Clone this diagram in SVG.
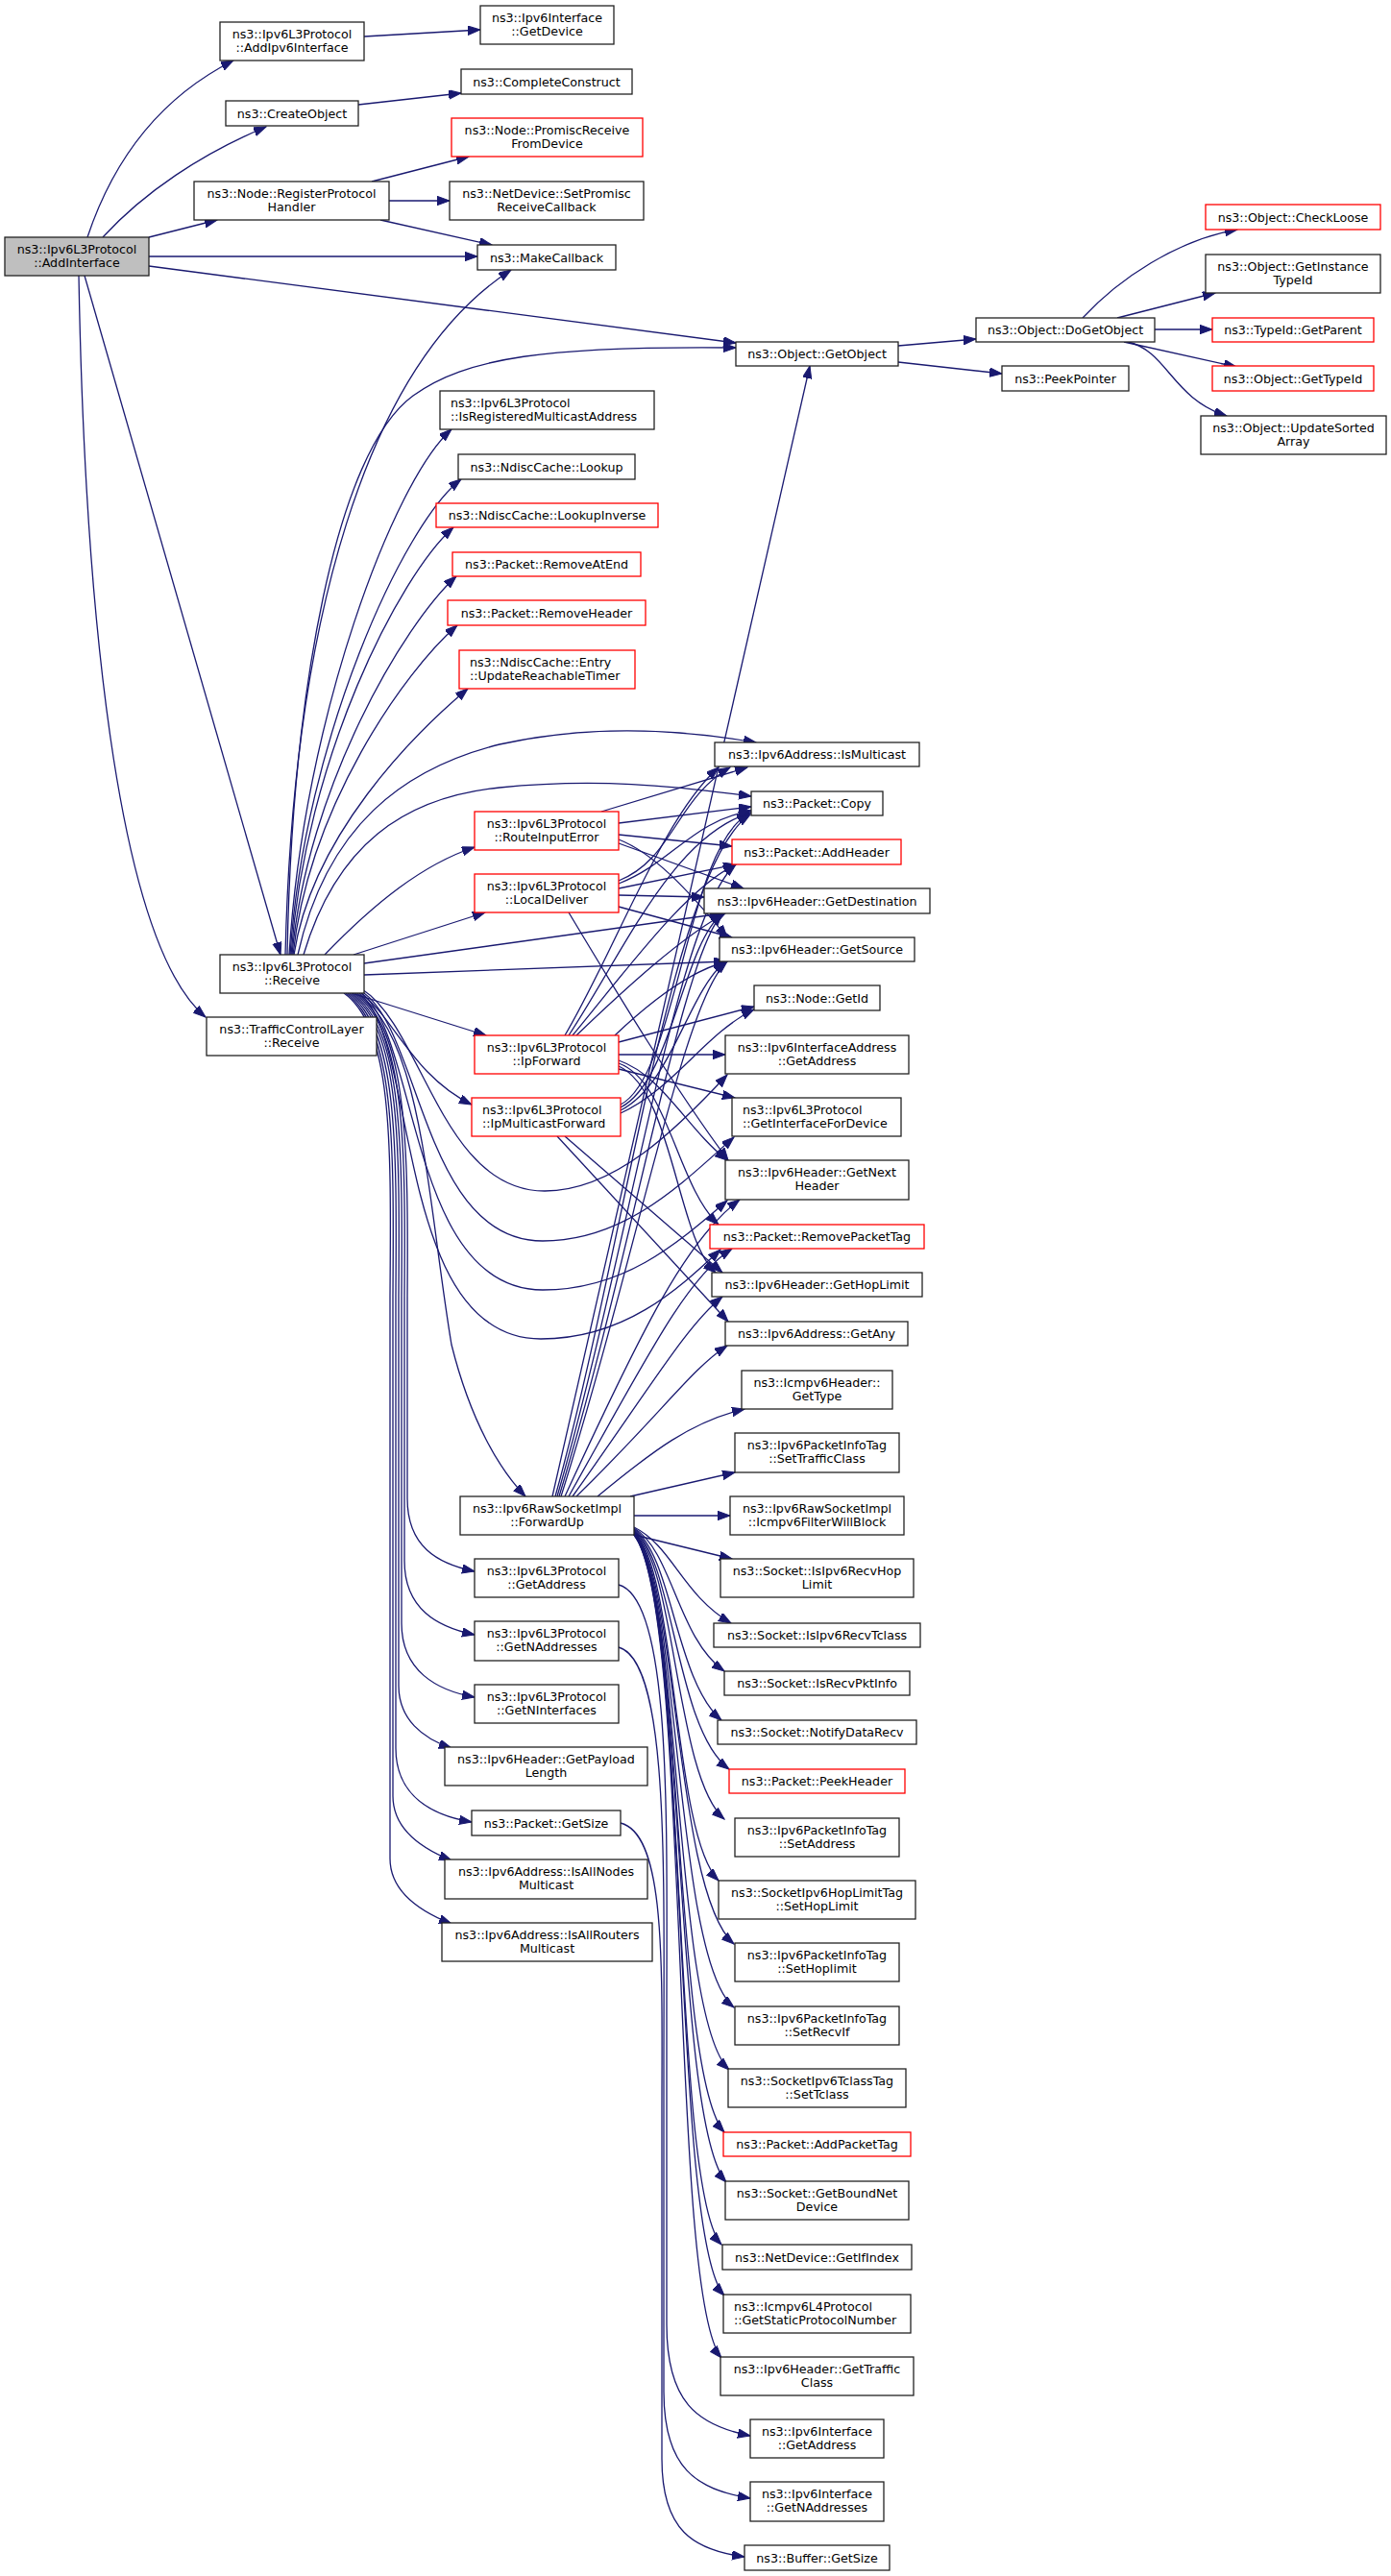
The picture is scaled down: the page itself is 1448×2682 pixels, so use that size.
<svg xmlns="http://www.w3.org/2000/svg" width="1448" height="2682" viewBox="0 0 1448 2682">
<defs>
<marker id="a" markerWidth="14" markerHeight="10" refX="13" refY="4.7" orient="auto" markerUnits="userSpaceOnUse"><path d="M0,0 L13,4.7 L0,9.4 z" fill="#191970" stroke="#191970" stroke-width="1"/></marker>
<style>
.n rect{fill:#fff;stroke:#222;stroke-width:1.3}
.r rect{stroke:#f00}
.root rect{fill:#bfbfbf}
text{font-family:"DejaVu Sans","Liberation Sans",sans-serif;font-size:12.67px;fill:#000}
.c{text-anchor:middle}
#edges path{fill:none;stroke:#191970;stroke-width:1.3;marker-end:url(#a)}
</style>
</defs>
<rect width="1448" height="2682" fill="#fff"/>
<g id="edges">
<path d="M91,247 C115,175 160,105 243,63"/>
<path d="M107,247 C150,200 210,160 277,132"/>
<path d="M155,247 L226,229"/>
<path d="M155,267 L497,267"/>
<path d="M155,277 L766,357"/>
<path d="M88,287 L292,994"/>
<path d="M82,287 C88,620 120,980 214,1059"/>
<path d="M379,38 L500,31"/>
<path d="M373,109 L480,97"/>
<path d="M387,189 L488,163"/>
<path d="M405,209 L468,209"/>
<path d="M396,229 L512,255"/>
<path d="M935,360 L1016,353"/>
<path d="M935,377 L1043,389"/>
<path d="M1127,331 C1165,290 1225,250 1288,239"/>
<path d="M1163,331 L1265,305"/>
<path d="M1202,343 L1262,343"/>
<path d="M1170,356 L1287,382"/>
<path d="M1174,356 C1215,365 1220,415 1277,433"/>
<path d="M297,994 C305,650 380,380 532,281"/>
<path d="M299,994 C304,720 350,470 430,412 C485,372 570,360 766,362"/>
<path d="M301,994 C316,748 410,500 470,447"/>
<path d="M302,994 C317,770 420,545 480,499"/>
<path d="M303,994 C318,790 415,600 472,549"/>
<path d="M304,994 C320,820 420,650 475,600"/>
<path d="M305,994 C322,840 420,700 476,651"/>
<path d="M306,994 C325,870 430,765 487,717"/>
<path d="M310,994 C340,860 420,800 520,775 C610,755 700,758 787,773"/>
<path d="M316,994 C350,880 420,830 520,820 C620,810 700,818 782,829"/>
<path d="M338,994 C390,940 440,900 494,882"/>
<path d="M368,994 L505,950"/>
<path d="M379,1003 L752,951"/>
<path d="M379,1015 L756,1001"/>
<path d="M366,1034 L506,1078"/>
<path d="M376,1034 C410,1060 430,1120 491,1150"/>
<path d="M377,1030 C440,1070 460,1240 567,1240 C640,1240 705,1175 757,1119"/>
<path d="M376,1032 C438,1070 440,1292 565,1292 C652,1292 712,1230 764,1184"/>
<path d="M375,1033 C436,1075 425,1343 565,1343 C652,1343 708,1292 757,1250"/>
<path d="M374,1034 C436,1080 410,1394 563,1394 C652,1394 708,1340 750,1301"/>
<path d="M372,1034 C440,1080 445,1250 470,1400 C490,1480 520,1530 547,1558"/>
<path d="M370,1034 C425,1070 425,1200 424,1350 L424,1560 C424,1610 455,1628 494,1636"/>
<path d="M368,1034 C423,1070 422,1200 421,1350 L421,1625 C421,1675 455,1694 494,1702"/>
<path d="M366,1034 C420,1070 419,1200 418,1350 L418,1690 C418,1740 455,1760 494,1767"/>
<path d="M364,1034 C418,1070 416,1200 415,1350 L415,1755 C415,1790 440,1810 470,1820"/>
<path d="M362,1034 C415,1070 413,1200 412,1350 L412,1820 C412,1870 450,1890 491,1897"/>
<path d="M360,1034 C412,1070 410,1200 409,1350 L409,1870 C409,1905 440,1925 470,1937"/>
<path d="M358,1034 C410,1070 407,1200 406,1350 L406,1935 C406,1970 437,1990 470,2003"/>
<path d="M588,1078 C640,990 690,850 748,799"/>
<path d="M592,1078 C650,990 700,870 782,846"/>
<path d="M596,1078 C660,1000 715,925 766,900"/>
<path d="M600,1078 C650,1030 710,975 755,951"/>
<path d="M640,1078 C680,1040 720,1010 757,1001"/>
<path d="M644,1085 L785,1048"/>
<path d="M644,1098 L755,1098"/>
<path d="M644,1113 L765,1143"/>
<path d="M644,1104 C690,1120 715,1175 757,1208"/>
<path d="M644,1107 C695,1125 705,1235 748,1275"/>
<path d="M644,1110 C700,1135 705,1290 745,1325"/>
<path d="M646,1150 C705,1120 715,880 780,847"/>
<path d="M646,1153 C700,1125 710,985 752,951"/>
<path d="M646,1156 C700,1128 715,1035 755,1001"/>
<path d="M646,1159 C700,1135 735,1075 785,1051"/>
<path d="M588,1183 L752,1325"/>
<path d="M580,1183 L758,1376"/>
<path d="M626,845 L778,799"/>
<path d="M644,857 L782,840"/>
<path d="M644,869 L762,881"/>
<path d="M644,878 L774,925"/>
<path d="M644,874 C680,888 715,925 757,976"/>
<path d="M644,917 C700,895 705,830 760,799"/>
<path d="M644,920 C700,898 720,855 782,844"/>
<path d="M644,925 L766,900"/>
<path d="M644,932 L733,934"/>
<path d="M644,944 L762,976"/>
<path d="M592,950 C640,1030 700,1130 758,1208"/>
<path d="M575,1558 L843,381"/>
<path d="M578,1558 C650,1300 700,900 781,848"/>
<path d="M580,1558 C655,1300 705,950 766,900"/>
<path d="M582,1558 C660,1300 708,1000 752,951"/>
<path d="M584,1558 C665,1300 712,1040 757,1001"/>
<path d="M588,1558 C670,1380 715,1290 770,1249"/>
<path d="M592,1558 C675,1410 715,1330 762,1300"/>
<path d="M596,1558 C680,1440 715,1380 752,1350"/>
<path d="M600,1558 C690,1470 720,1425 757,1401"/>
<path d="M622,1558 C680,1510 720,1480 775,1467"/>
<path d="M656,1558 L765,1533"/>
<path d="M660,1578 L760,1578"/>
<path d="M660,1598 L762,1623"/>
<path d="M660,1590 C700,1610 710,1660 761,1690"/>
<path d="M660,1591 C700,1615 705,1705 754,1740"/>
<path d="M660,1592 C700,1620 703,1750 751,1791"/>
<path d="M660,1593 C702,1625 703,1800 759,1842"/>
<path d="M660,1594 C704,1630 703,1850 754,1894"/>
<path d="M660,1595 C705,1635 700,1910 748,1958"/>
<path d="M660,1596 C706,1640 702,1970 764,2024"/>
<path d="M660,1596 C708,1645 702,2040 764,2090"/>
<path d="M660,1597 C710,1650 700,2100 759,2155"/>
<path d="M660,1597 C712,1655 700,2160 754,2220"/>
<path d="M660,1598 C714,1660 700,2210 756,2272"/>
<path d="M660,1598 C716,1665 698,2280 751,2337"/>
<path d="M660,1598 C718,1670 698,2330 754,2390"/>
<path d="M660,1598 C720,1675 696,2390 751,2455"/>
<path d="M644,1650 C700,1665 694,1900 694,2100 L694,2420 C694,2500 725,2525 781,2536"/>
<path d="M644,1715 C697,1730 691,1950 691,2150 L691,2490 C691,2570 725,2592 781,2601"/>
<path d="M646,1898 C694,1910 689,2050 689,2200 L689,2560 C689,2635 722,2655 775,2662"/>
</g>
<g id="n0" class="n root"><rect x="5" y="247" width="150" height="40"/><text class="c"><tspan x="80" y="263.5">ns3::Ipv6L3Protocol</tspan><tspan x="80" y="277.5">::AddInterface</tspan></text></g>
<g id="n1" class="n"><rect x="229" y="23" width="150" height="40"/><text class="c"><tspan x="304" y="39.5">ns3::Ipv6L3Protocol</tspan><tspan x="304" y="53.5">::AddIpv6Interface</tspan></text></g>
<g id="n2" class="n"><rect x="500" y="6" width="139" height="40"/><text class="c"><tspan x="569.5" y="22.5">ns3::Ipv6Interface</tspan><tspan x="569.5" y="36.5">::GetDevice</tspan></text></g>
<g id="n3" class="n"><rect x="235" y="105" width="138" height="26"/><text class="c" x="304" y="122.5">ns3::CreateObject</text></g>
<g id="n4" class="n"><rect x="480" y="72" width="178" height="26"/><text class="c" x="569" y="89.5">ns3::CompleteConstruct</text></g>
<g id="n5" class="n r"><rect x="470" y="123" width="199" height="40"/><text class="c"><tspan x="569.5" y="139.5">ns3::Node::PromiscReceive</tspan><tspan x="569.5" y="153.5">FromDevice</tspan></text></g>
<g id="n6" class="n"><rect x="202" y="189" width="203" height="40"/><text class="c"><tspan x="303.5" y="205.5">ns3::Node::RegisterProtocol</tspan><tspan x="303.5" y="219.5">Handler</tspan></text></g>
<g id="n7" class="n"><rect x="468" y="189" width="202" height="40"/><text class="c"><tspan x="569" y="205.5">ns3::NetDevice::SetPromisc</tspan><tspan x="569" y="219.5">ReceiveCallback</tspan></text></g>
<g id="n8" class="n"><rect x="497" y="255" width="144" height="26"/><text class="c" x="569" y="272.5">ns3::MakeCallback</text></g>
<g id="n9" class="n"><rect x="766" y="356" width="169" height="25"/><text class="c" x="850.5" y="373">ns3::Object::GetObject</text></g>
<g id="n10" class="n"><rect x="1043" y="381" width="132" height="26"/><text class="c" x="1109" y="398.5">ns3::PeekPointer</text></g>
<g id="n11" class="n"><rect x="1016" y="331" width="186" height="25"/><text class="c" x="1109" y="348">ns3::Object::DoGetObject</text></g>
<g id="n12" class="n r"><rect x="1255" y="213" width="182" height="26"/><text class="c" x="1346" y="230.5">ns3::Object::CheckLoose</text></g>
<g id="n13" class="n"><rect x="1255" y="265" width="182" height="40"/><text class="c"><tspan x="1346" y="281.5">ns3::Object::GetInstance</tspan><tspan x="1346" y="295.5">TypeId</tspan></text></g>
<g id="n14" class="n r"><rect x="1262" y="331" width="168" height="25"/><text class="c" x="1346" y="348">ns3::TypeId::GetParent</text></g>
<g id="n15" class="n r"><rect x="1262" y="381" width="168" height="26"/><text class="c" x="1346" y="398.5">ns3::Object::GetTypeId</text></g>
<g id="n16" class="n"><rect x="1250" y="433" width="193" height="40"/><text class="c"><tspan x="1346.5" y="449.5">ns3::Object::UpdateSorted</tspan><tspan x="1346.5" y="463.5">Array</tspan></text></g>
<g id="n17" class="n"><rect x="458" y="407" width="223" height="40"/><text><tspan x="469" y="423.5">ns3::Ipv6L3Protocol</tspan><tspan x="469" y="437.5">::IsRegisteredMulticastAddress</tspan></text></g>
<g id="n18" class="n"><rect x="477" y="473" width="184" height="26"/><text class="c" x="569" y="490.5">ns3::NdiscCache::Lookup</text></g>
<g id="n19" class="n r"><rect x="454" y="524" width="231" height="25"/><text class="c" x="569.5" y="541">ns3::NdiscCache::LookupInverse</text></g>
<g id="n20" class="n r"><rect x="471" y="575" width="196" height="25"/><text class="c" x="569" y="592">ns3::Packet::RemoveAtEnd</text></g>
<g id="n21" class="n r"><rect x="466" y="625" width="206" height="26"/><text class="c" x="569" y="642.5">ns3::Packet::RemoveHeader</text></g>
<g id="n22" class="n r"><rect x="478" y="677" width="183" height="40"/><text><tspan x="489" y="693.5">ns3::NdiscCache::Entry</tspan><tspan x="489" y="707.5">::UpdateReachableTimer</tspan></text></g>
<g id="n23" class="n"><rect x="744" y="773" width="213" height="25"/><text class="c" x="850.5" y="790">ns3::Ipv6Address::IsMulticast</text></g>
<g id="n24" class="n"><rect x="782" y="824" width="137" height="25"/><text class="c" x="850.5" y="841">ns3::Packet::Copy</text></g>
<g id="n25" class="n r"><rect x="762" y="874" width="176" height="26"/><text class="c" x="850" y="891.5">ns3::Packet::AddHeader</text></g>
<g id="n26" class="n"><rect x="733" y="925" width="235" height="26"/><text class="c" x="850.5" y="942.5">ns3::Ipv6Header::GetDestination</text></g>
<g id="n27" class="n"><rect x="749" y="976" width="203" height="25"/><text class="c" x="850.5" y="993">ns3::Ipv6Header::GetSource</text></g>
<g id="n28" class="n"><rect x="785" y="1026" width="131" height="26"/><text class="c" x="850.5" y="1043.5">ns3::Node::GetId</text></g>
<g id="n29" class="n"><rect x="755" y="1078" width="191" height="40"/><text class="c"><tspan x="850.5" y="1094.5">ns3::Ipv6InterfaceAddress</tspan><tspan x="850.5" y="1108.5">::GetAddress</tspan></text></g>
<g id="n30" class="n"><rect x="762" y="1143" width="176" height="40"/><text><tspan x="773" y="1159.5">ns3::Ipv6L3Protocol</tspan><tspan x="773" y="1173.5">::GetInterfaceForDevice</tspan></text></g>
<g id="n31" class="n"><rect x="755" y="1208" width="191" height="41"/><text class="c"><tspan x="850.5" y="1225">ns3::Ipv6Header::GetNext</tspan><tspan x="850.5" y="1239">Header</tspan></text></g>
<g id="n32" class="n r"><rect x="739" y="1275" width="223" height="25"/><text class="c" x="850.5" y="1292">ns3::Packet::RemovePacketTag</text></g>
<g id="n33" class="n"><rect x="741" y="1325" width="219" height="25"/><text class="c" x="850.5" y="1342">ns3::Ipv6Header::GetHopLimit</text></g>
<g id="n34" class="n"><rect x="755" y="1376" width="190" height="25"/><text class="c" x="850" y="1393">ns3::Ipv6Address::GetAny</text></g>
<g id="n35" class="n"><rect x="772" y="1427" width="157" height="40"/><text class="c"><tspan x="850.5" y="1443.5">ns3::Icmpv6Header::</tspan><tspan x="850.5" y="1457.5">GetType</tspan></text></g>
<g id="n36" class="n"><rect x="765" y="1492" width="171" height="41"/><text class="c"><tspan x="850.5" y="1509">ns3::Ipv6PacketInfoTag</tspan><tspan x="850.5" y="1523">::SetTrafficClass</tspan></text></g>
<g id="n37" class="n"><rect x="760" y="1558" width="181" height="40"/><text class="c"><tspan x="850.5" y="1574.5">ns3::Ipv6RawSocketImpl</tspan><tspan x="850.5" y="1588.5">::Icmpv6FilterWillBlock</tspan></text></g>
<g id="n38" class="n"><rect x="750" y="1623" width="201" height="40"/><text class="c"><tspan x="850.5" y="1639.5">ns3::Socket::IsIpv6RecvHop</tspan><tspan x="850.5" y="1653.5">Limit</tspan></text></g>
<g id="n39" class="n"><rect x="743" y="1690" width="215" height="25"/><text class="c" x="850.5" y="1707">ns3::Socket::IsIpv6RecvTclass</text></g>
<g id="n40" class="n"><rect x="754" y="1740" width="193" height="25"/><text class="c" x="850.5" y="1757">ns3::Socket::IsRecvPktInfo</text></g>
<g id="n41" class="n"><rect x="747" y="1791" width="207" height="25"/><text class="c" x="850.5" y="1808">ns3::Socket::NotifyDataRecv</text></g>
<g id="n42" class="n r"><rect x="759" y="1842" width="183" height="25"/><text class="c" x="850.5" y="1859">ns3::Packet::PeekHeader</text></g>
<g id="n43" class="n"><rect x="765" y="1893" width="171" height="40"/><text class="c"><tspan x="850.5" y="1909.5">ns3::Ipv6PacketInfoTag</tspan><tspan x="850.5" y="1923.5">::SetAddress</tspan></text></g>
<g id="n44" class="n"><rect x="748" y="1958" width="205" height="40"/><text class="c"><tspan x="850.5" y="1974.5">ns3::SocketIpv6HopLimitTag</tspan><tspan x="850.5" y="1988.5">::SetHopLimit</tspan></text></g>
<g id="n45" class="n"><rect x="765" y="2023" width="171" height="40"/><text class="c"><tspan x="850.5" y="2039.5">ns3::Ipv6PacketInfoTag</tspan><tspan x="850.5" y="2053.5">::SetHoplimit</tspan></text></g>
<g id="n46" class="n"><rect x="765" y="2089" width="171" height="40"/><text class="c"><tspan x="850.5" y="2105.5">ns3::Ipv6PacketInfoTag</tspan><tspan x="850.5" y="2119.5">::SetRecvIf</tspan></text></g>
<g id="n47" class="n"><rect x="758" y="2154" width="185" height="40"/><text class="c"><tspan x="850.5" y="2170.5">ns3::SocketIpv6TclassTag</tspan><tspan x="850.5" y="2184.5">::SetTclass</tspan></text></g>
<g id="n48" class="n r"><rect x="753" y="2220" width="195" height="25"/><text class="c" x="850.5" y="2237">ns3::Packet::AddPacketTag</text></g>
<g id="n49" class="n"><rect x="755" y="2271" width="191" height="40"/><text class="c"><tspan x="850.5" y="2287.5">ns3::Socket::GetBoundNet</tspan><tspan x="850.5" y="2301.5">Device</tspan></text></g>
<g id="n50" class="n"><rect x="752" y="2337" width="197" height="26"/><text class="c" x="850.5" y="2354.5">ns3::NetDevice::GetIfIndex</text></g>
<g id="n51" class="n"><rect x="753" y="2389" width="195" height="40"/><text><tspan x="764" y="2405.5">ns3::Icmpv6L4Protocol</tspan><tspan x="764" y="2419.5">::GetStaticProtocolNumber</tspan></text></g>
<g id="n52" class="n"><rect x="750" y="2454" width="201" height="40"/><text class="c"><tspan x="850.5" y="2470.5">ns3::Ipv6Header::GetTraffic</tspan><tspan x="850.5" y="2484.5">Class</tspan></text></g>
<g id="n53" class="n"><rect x="781" y="2519" width="139" height="40"/><text class="c"><tspan x="850.5" y="2535.5">ns3::Ipv6Interface</tspan><tspan x="850.5" y="2549.5">::GetAddress</tspan></text></g>
<g id="n54" class="n"><rect x="781" y="2584" width="139" height="41"/><text class="c"><tspan x="850.5" y="2601">ns3::Ipv6Interface</tspan><tspan x="850.5" y="2615">::GetNAddresses</tspan></text></g>
<g id="n55" class="n"><rect x="775" y="2650" width="151" height="26"/><text class="c" x="850.5" y="2667.5">ns3::Buffer::GetSize</text></g>
<g id="n56" class="n"><rect x="229" y="994" width="150" height="40"/><text class="c"><tspan x="304" y="1010.5">ns3::Ipv6L3Protocol</tspan><tspan x="304" y="1024.5">::Receive</tspan></text></g>
<g id="n57" class="n"><rect x="215" y="1059" width="177" height="40"/><text class="c"><tspan x="303.5" y="1075.5">ns3::TrafficControlLayer</tspan><tspan x="303.5" y="1089.5">::Receive</tspan></text></g>
<g id="n58" class="n r"><rect x="494" y="845" width="150" height="40"/><text class="c"><tspan x="569" y="861.5">ns3::Ipv6L3Protocol</tspan><tspan x="569" y="875.5">::RouteInputError</tspan></text></g>
<g id="n59" class="n r"><rect x="494" y="910" width="150" height="40"/><text class="c"><tspan x="569" y="926.5">ns3::Ipv6L3Protocol</tspan><tspan x="569" y="940.5">::LocalDeliver</tspan></text></g>
<g id="n60" class="n r"><rect x="494" y="1078" width="150" height="40"/><text class="c"><tspan x="569" y="1094.5">ns3::Ipv6L3Protocol</tspan><tspan x="569" y="1108.5">::IpForward</tspan></text></g>
<g id="n61" class="n r"><rect x="491" y="1143" width="155" height="40"/><text><tspan x="502" y="1159.5">ns3::Ipv6L3Protocol</tspan><tspan x="502" y="1173.5">::IpMulticastForward</tspan></text></g>
<g id="n62" class="n"><rect x="479" y="1558" width="181" height="40"/><text class="c"><tspan x="569.5" y="1574.5">ns3::Ipv6RawSocketImpl</tspan><tspan x="569.5" y="1588.5">::ForwardUp</tspan></text></g>
<g id="n63" class="n"><rect x="494" y="1623" width="150" height="40"/><text class="c"><tspan x="569" y="1639.5">ns3::Ipv6L3Protocol</tspan><tspan x="569" y="1653.5">::GetAddress</tspan></text></g>
<g id="n64" class="n"><rect x="494" y="1688" width="150" height="41"/><text class="c"><tspan x="569" y="1705">ns3::Ipv6L3Protocol</tspan><tspan x="569" y="1719">::GetNAddresses</tspan></text></g>
<g id="n65" class="n"><rect x="494" y="1754" width="150" height="40"/><text class="c"><tspan x="569" y="1770.5">ns3::Ipv6L3Protocol</tspan><tspan x="569" y="1784.5">::GetNInterfaces</tspan></text></g>
<g id="n66" class="n"><rect x="463" y="1819" width="211" height="40"/><text class="c"><tspan x="568.5" y="1835.5">ns3::Ipv6Header::GetPayload</tspan><tspan x="568.5" y="1849.5">Length</tspan></text></g>
<g id="n67" class="n"><rect x="491" y="1885" width="155" height="26"/><text class="c" x="568.5" y="1902.5">ns3::Packet::GetSize</text></g>
<g id="n68" class="n"><rect x="463" y="1936" width="211" height="41"/><text class="c"><tspan x="568.5" y="1953">ns3::Ipv6Address::IsAllNodes</tspan><tspan x="568.5" y="1967">Multicast</tspan></text></g>
<g id="n69" class="n"><rect x="460" y="2002" width="219" height="40"/><text class="c"><tspan x="569.5" y="2018.5">ns3::Ipv6Address::IsAllRouters</tspan><tspan x="569.5" y="2032.5">Multicast</tspan></text></g>
</svg>
